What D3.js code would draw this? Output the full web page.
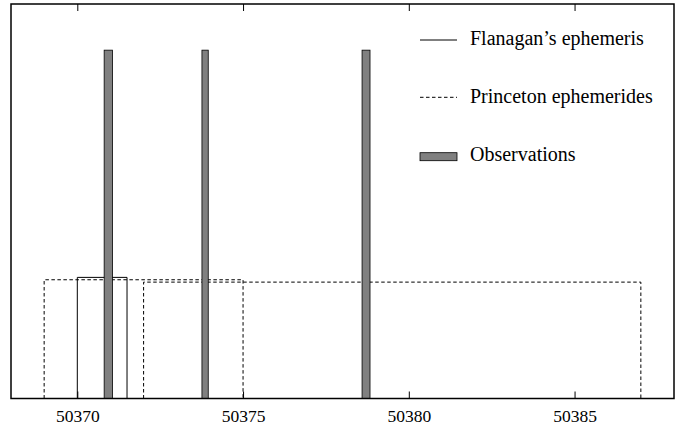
<!DOCTYPE html>
<html>
<head>
<meta charset="utf-8">
<script src="https://cdn.jsdelivr.net/npm/d3@7"></script>
<style>
  body { margin: 0; background: #fff; }
  text { font-family: "Liberation Serif", "Times New Roman", serif; }
</style>
</head>
<body>
<div id="chart"></div>
<script>
// x ticks (MJD)
const xTicks = [50370, 50375, 50380, 50385];

// Observations: time intervals and heights
const obsStart = [50370.81, 50373.76, 50378.59];
const obsEnd = [50371.06, 50373.95, 50378.83];
const obsHeight = [0.883, 0.883, 0.883];

// Flanagan's ephemeris window
const flanStart = [50370];
const flanEnd = [50371.5];
const flanHeight = [0.307];

// Princeton ephemerides windows
const princStart = [50369, 50372];
const princEnd = [50375, 50387];
const princHeight = [0.301, 0.295];

const legendLabels = ['Flanagan\u2019s ephemeris', 'Princeton ephemerides', 'Observations'];

const width = 679, height = 425;
const plotLeft = 11, plotRight = 674, plotTop = 4, plotBottom = 398.5;

const svg = d3.select('#chart')
  .append('svg')
  .attr('width', width)
  .attr('height', height);

const x = d3.scaleLinear().domain([50368, 50388]).range([plotLeft, plotRight]);
const y = d3.scaleLinear().domain([0, 1]).range([plotBottom, plotTop]);

// box outline (no bottom edge) for a window
function boxPath(x0, x1, h) {
  return `M${x(x0)},${y(0)}V${y(h)}H${x(x1)}V${y(0)}`;
}

// Princeton (dashed)
svg.selectAll('.princ')
  .data(princStart)
  .enter()
  .append('path')
  .attr('class', 'princ')
  .attr('d', (d, i) => boxPath(d, princEnd[i], princHeight[i]))
  .attr('fill', 'none')
  .attr('stroke', '#000')
  .attr('stroke-width', 1)
  .attr('stroke-dasharray', '3.5,2.5');

// Flanagan (solid)
svg.selectAll('.flan')
  .data(flanStart)
  .enter()
  .append('path')
  .attr('class', 'flan')
  .attr('d', (d, i) => boxPath(d, flanEnd[i], flanHeight[i]))
  .attr('fill', 'none')
  .attr('stroke', '#000')
  .attr('stroke-width', 1);

// Observations
svg.selectAll('.obs')
  .data(obsStart)
  .enter()
  .append('rect')
  .attr('class', 'obs')
  .attr('x', d => x(d))
  .attr('width', (d, i) => x(obsEnd[i]) - x(d))
  .attr('y', (d, i) => y(obsHeight[i]))
  .attr('height', (d, i) => y(0) - y(obsHeight[i]))
  .attr('fill', '#808080')
  .attr('stroke', '#000')
  .attr('stroke-width', 0.8);

// Axes: bottom with labels, top ticks only, frame
const xAxis = svg.append('g')
  .attr('transform', `translate(0,${plotBottom})`)
  .call(d3.axisBottom(x).tickValues(xTicks).tickFormat(d3.format('d')).tickSizeInner(-7).tickSizeOuter(0));
xAxis.select('.domain').remove();
xAxis.selectAll('line').attr('stroke', '#000');
xAxis.selectAll('text')
  .attr('y', 23)
  .attr('dy', 0)
  .style('font-family', '"Liberation Serif", serif')
  .style('font-size', '17.5px')
  .attr('fill', '#000');

const xTop = svg.append('g')
  .attr('transform', `translate(0,${plotTop})`)
  .call(d3.axisTop(x).tickValues(xTicks).tickFormat('').tickSizeInner(-7).tickSizeOuter(0));
xTop.select('.domain').remove();
xTop.selectAll('line').attr('stroke', '#000');

svg.append('rect')
  .attr('x', plotLeft)
  .attr('y', plotTop)
  .attr('width', plotRight - plotLeft)
  .attr('height', plotBottom - plotTop)
  .attr('fill', 'none')
  .attr('stroke', '#000')
  .attr('stroke-width', 1.5);

// Legend
const legendX = 420;
const legendW = 37;
const legendY = [40, 97.3, 156.7];
const legendBase = [45, 103.3, 160.7];

const legend = svg.append('g').attr('class', 'legend');

legend.append('line')
  .attr('x1', legendX).attr('x2', legendX + legendW)
  .attr('y1', legendY[0]).attr('y2', legendY[0])
  .attr('stroke', '#000');

legend.append('line')
  .attr('x1', legendX).attr('x2', legendX + legendW)
  .attr('y1', legendY[1]).attr('y2', legendY[1])
  .attr('stroke', '#000')
  .attr('stroke-dasharray', '3.5,2.5');

legend.append('rect')
  .attr('x', legendX).attr('y', legendY[2] - 4)
  .attr('width', legendW).attr('height', 8)
  .attr('fill', '#808080')
  .attr('stroke', '#000')
  .attr('stroke-width', 0.8);

legend.selectAll('.legend-text')
  .data(legendLabels)
  .enter()
  .append('text')
  .attr('class', 'legend-text')
  .attr('x', 470)
  .attr('y', (d, i) => legendBase[i])
  .text(d => d)
  .style('font-size', '20px')
  .style('fill', '#000');
</script>
</body>
</html>
